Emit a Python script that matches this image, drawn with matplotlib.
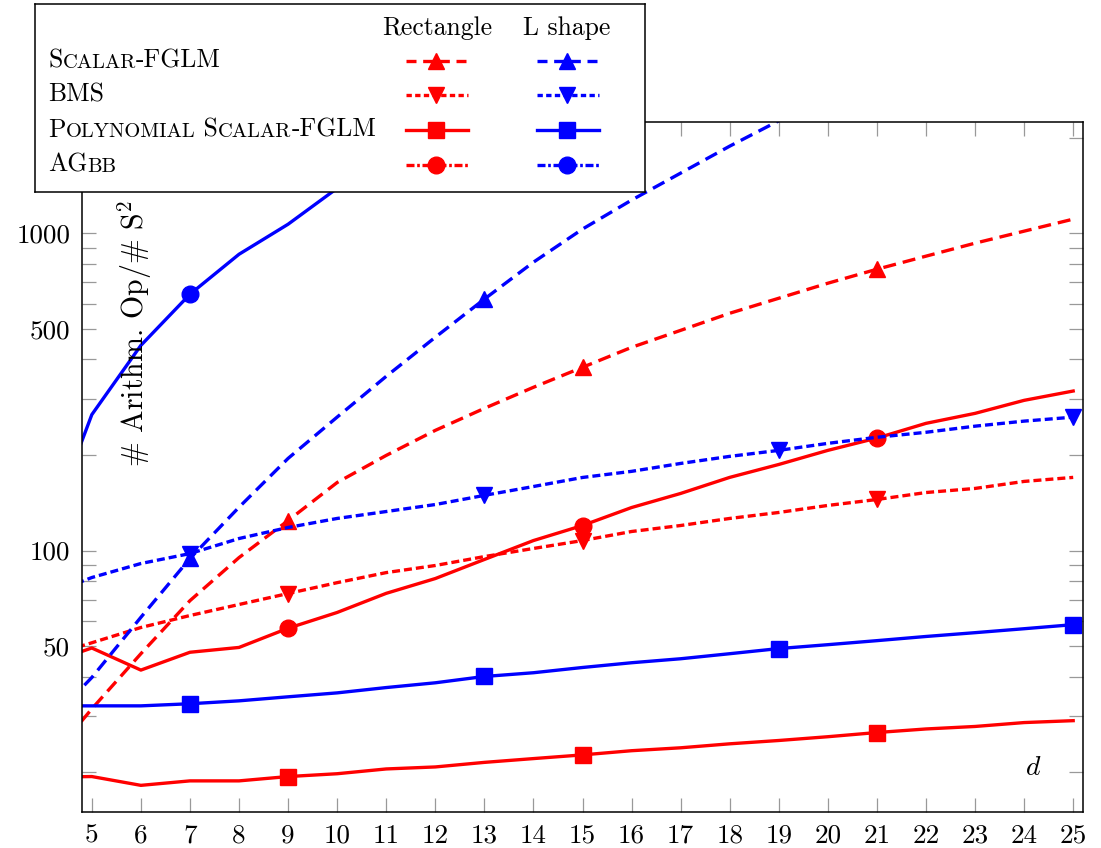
import numpy as np
import matplotlib
matplotlib.use("Agg")
import matplotlib.pyplot as plt
from matplotlib.ticker import NullFormatter
from matplotlib.offsetbox import TextArea, HPacker, AnnotationBbox

plt.rcParams['font.family'] = 'serif'
plt.rcParams['font.serif'] = ['cmr10']
plt.rcParams['mathtext.fontset'] = 'cm'
plt.rcParams['axes.unicode_minus'] = False

# data, d = 4..25 (d=4 only shows at the clipped left edge)
d = list(range(4, 26))

rect_scalar = [20.7, 31.7, 47.3, 69.5, 95.0, 124.3, 163.8, 199.4, 239.1, 280.5, 326.8,
               377.8, 436.7, 494.0, 559.2, 623.6, 695.4, 769.7, 846.3, 929.9, 1014.6, 1107]
rect_bms = [46.0, 51.2, 57.2, 62.4, 67.6, 73.2, 79.2, 85.2, 89.7, 95.7, 101.5,
            107.5, 114.8, 119.9, 126.2, 131.8, 138.7, 144.8, 152.3, 156.9, 165.1, 170.0]
rect_poly = [19.3, 19.4, 18.2, 18.8, 18.8, 19.4, 19.8, 20.5, 20.8, 21.5, 22.1,
             22.7, 23.4, 23.9, 24.6, 25.2, 25.9, 26.7, 27.4, 27.9, 28.7, 29.1]
rect_agbb = [43.6, 49.3, 42.0, 47.8, 49.5, 56.9, 63.8, 73.3, 81.6, 93.7, 107.5,
             119.9, 136.6, 151.3, 170.0, 186.7, 206.8, 226.1, 251.6, 270.5, 297.3, 318.1]

l_scalar = [27.5, 39.8, 61.6, 94.4, 136.9, 195.1, 263.3, 353.9, 469.9, 619.7, 810,
            1030, 1271, 1546, 1880, 2260, 2700, 3150, 3650, 4200, 4800, 5400]
l_bms = [71.6, 82.2, 91.0, 97.8, 109.1, 118.2, 126.2, 132.7, 139.6, 149.2, 159.1,
         169.9, 177.6, 188.1, 198.0, 206.8, 217.6, 227.4, 235.8, 246.5, 255.7, 263.2]
l_poly = [32.4, 32.4, 32.4, 32.9, 33.6, 34.6, 35.6, 37.0, 38.3, 40.1, 41.2,
          42.8, 44.3, 45.6, 47.3, 49.1, 50.5, 52.0, 53.6, 55.1, 56.7, 58.4]
l_agbb = [104, 268, 443, 642, 858, 1067, 1385, 1700, 2050, 2450, 2850,
          3300, 3750, 4250, 4800, 5350, 5950, 6600, 7300, 8000, 8800, 9600]

ytick_vals = [50, 100, 500, 1000]
yminor_vals = [20, 30, 40, 60, 70, 80, 90, 200, 300, 400, 600, 700, 800, 900, 2000]

RED = (1, 0, 0)
BLUE = (0, 0, 1)
LW = 2.4
styles = {
    'scalar': dict(dashes=(3.9, 2.1), marker='^', ms=11),
    'bms': dict(dashes=(2.4, 1.2), marker='v', ms=11),
    'poly': dict(ls='-', marker='s', ms=11.5),
    'agbb': dict(ls='-', marker='o', ms=12),
}

W, H = 1101, 848
fig = plt.figure(figsize=(W / 100, H / 100), dpi=100)
ax = fig.add_axes([82 / W, 1 - 812 / H, 1001 / W, 690 / H])

rect_every = slice(5, None, 6)   # 9, 15, 21
l_every = slice(3, None, 6)      # 7, 13, 19, 25

for key, ys in [('scalar', rect_scalar), ('bms', rect_bms), ('poly', rect_poly), ('agbb', rect_agbb)]:
    ax.plot(d, ys, color=RED, lw=LW, markevery=rect_every, **styles[key])
for key, ys in [('scalar', l_scalar), ('bms', l_bms), ('poly', l_poly), ('agbb', l_agbb)]:
    # markers that would sit on or above the top edge are not shown in the original
    every = [i for i in range(3, len(d), 6) if ys[i] < 2000]
    ax.plot(d, ys, color=BLUE, lw=LW, markevery=every, **styles[key])

ax.set_yscale('log')
ax.set_xlim(4.8, 25.2)
ax.set_ylim(15, 2240)
ax.set_xticks(range(5, 26))
ax.set_xticklabels([str(v) for v in range(5, 26)])
ax.set_yticks(ytick_vals)
ax.set_yticklabels([str(v) for v in ytick_vals])
ax.set_yticks(yminor_vals, minor=True)
ax.yaxis.set_minor_formatter(NullFormatter())
ax.xaxis.set_minor_locator(matplotlib.ticker.NullLocator())
ax.tick_params(which='both', direction='in', length=10, width=0.9, color='0.6',
               top=True, right=True, labelsize=19.5, pad=8.5)
for sp in ax.spines.values():
    sp.set_linewidth(1.1)

ax.text(0.053, 0.694, r'# Arithm. Op/# S$^2$', transform=ax.transAxes, rotation=90,
        ha='center', va='center', fontsize=21.5)
ax.text(0.950, 0.064, r'$d$', transform=ax.transAxes, ha='center', va='center', fontsize=20)

# legend drawn as a small table in its own axes (pixel coordinates)
lg = fig.add_axes([35 / W, 1 - 192 / H, 610 / W, 188 / H])
lg.set_xlim(35, 645)
lg.set_ylim(192, 4)
lg.set_xticks([])
lg.set_yticks([])
lg.set_facecolor('white')
for sp in lg.spines.values():
    sp.set_linewidth(1.1)

FS = 18.5
lg.text(437, 28, 'Rectangle', ha='center', va='center', fontsize=FS)
lg.text(567, 28, 'L shape', ha='center', va='center', fontsize=FS)


def small_caps(x, y, parts):
    boxes = [TextArea(t, textprops=dict(fontsize=FS if big else FS * 0.8)) for t, big in parts]
    pack = HPacker(children=boxes, align='baseline', pad=0, sep=0)
    lg.add_artist(AnnotationBbox(pack, (x, y), xycoords='data', box_alignment=(0, 0.5),
                                 frameon=False, pad=0))


rows = [61, 95, 130, 165]
labels = [
    [('S', True), ('CALAR', False), ('-FGLM', True)],
    [('BMS', True)],
    [('P', True), ('OLYNOMIAL', False), (' S', True), ('CALAR', False), ('-FGLM', True)],
    [('AG', True), ('BB', False)],
]
leg_styles = [
    dict(dashes=(3.0, 2.0), marker='^', ms=11),
    dict(dashes=(1.6, 1.0), marker='v', ms=11),
    dict(ls='-', marker='s', ms=11.5),
    dict(dashes=(2.4, 0.8, 0.8, 0.8), marker='o', ms=12),
]
for yrow, lab, st in zip(rows, labels, leg_styles):
    small_caps(48, yrow, lab)
    lg.plot([406, 436, 468], [yrow] * 3, color=RED, lw=LW, markevery=[1], **st)
    lg.plot([537, 567, 599], [yrow] * 3, color=BLUE, lw=LW, markevery=[1], **st)

fig.savefig('out.png', dpi=100)
